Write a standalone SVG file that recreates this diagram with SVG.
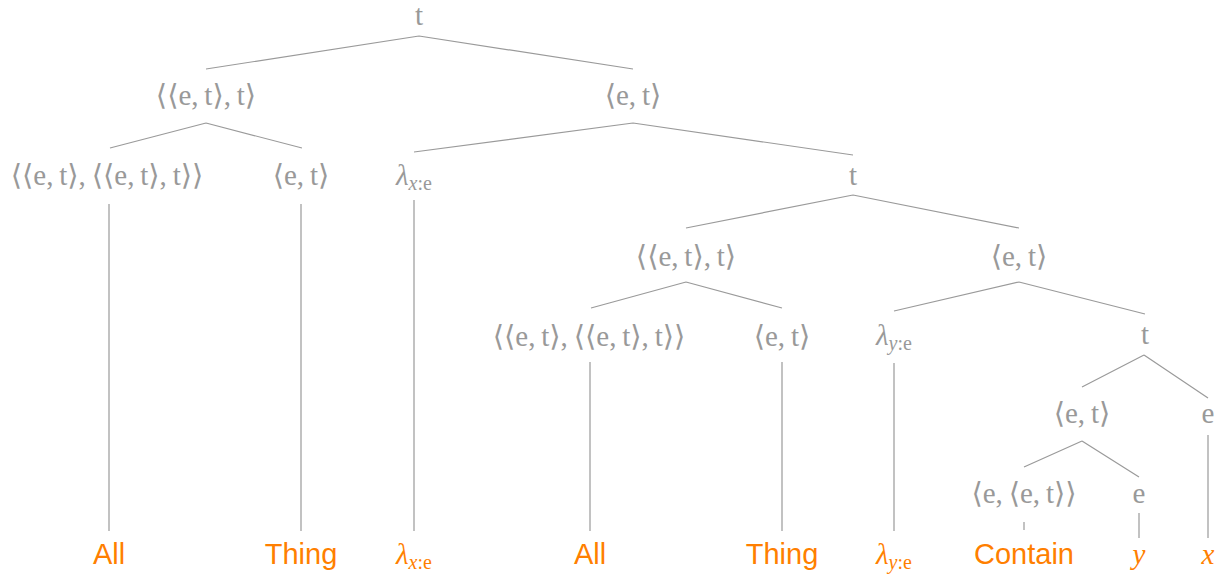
<svg xmlns="http://www.w3.org/2000/svg" width="1225" height="574" viewBox="0 0 1225 574">
<style>
.g{font-family:"Liberation Serif","DejaVu Serif",serif;font-size:29px;fill:#999;text-anchor:middle}
.o{font-family:"Liberation Sans",Arial,sans-serif;font-size:29px;fill:#ff7f00;text-anchor:middle}
.os{font-family:"Liberation Serif","DejaVu Serif",serif;font-size:29px;fill:#ff7f00;text-anchor:middle}
.i{font-style:italic}
.sub{font-size:20px}
.edges path{stroke:#9a9a9a;stroke-width:1.2;fill:none}
</style>
<rect width="1225" height="574" fill="#fff"/>
<g class="edges" id="connectors">
<path d="M419,36 L206,69 M419,36 L633,69"/>
<path d="M206,123 L110,148 M206,123 L302,148"/>
<path d="M633,123 L414,152 M633,123 L853,155"/>
<path d="M109,204 L109,531 M301,204 L301,531 M414,200 L414,531"/>
<path d="M853,195 L686,228 M853,195 L1019,228"/>
<path d="M686,282 L591,308 M686,282 L782,308"/>
<path d="M1019,282 L894,311 M1019,282 L1145,314"/>
<path d="M590,362 L590,531 M782,362 L782,531 M894,363 L894,531"/>
<path d="M1144,355 L1082,387 M1144,355 L1208,398"/>
<path d="M1082,441 L1024,467 M1082,441 L1139,477"/>
<path d="M1208,435 L1208,538 M1024,522 L1024,530 M1139,513 L1139,538"/>
</g>
<g id="n-root"><text class="g" x="419" y="25">t</text></g>
<g id="n-L1"><text class="g" x="206" y="105">⟨⟨e,&#8201;t⟩,&#8201;t⟩</text></g>
<g id="n-R1"><text class="g" x="633" y="105">⟨e,&#8201;t⟩</text></g>
<g id="n-all1"><text class="g" x="107" y="185">⟨⟨e,&#8201;t⟩,&#8201;⟨⟨e,&#8201;t⟩,&#8201;t⟩⟩</text></g>
<g id="n-thing1"><text class="g" x="301" y="185">⟨e,&#8201;t⟩</text></g>
<g id="n-lamx"><text class="g" x="414" y="185"><tspan class="i">λ</tspan><tspan class="sub i" dy="5">x</tspan><tspan class="sub">:e</tspan></text></g>
<g id="n-t2"><text class="g" x="853" y="185">t</text></g>
<g id="n-L3"><text class="g" x="686" y="266">⟨⟨e,&#8201;t⟩,&#8201;t⟩</text></g>
<g id="n-R3"><text class="g" x="1019" y="266">⟨e,&#8201;t⟩</text></g>
<g id="n-all2"><text class="g" x="589" y="346">⟨⟨e,&#8201;t⟩,&#8201;⟨⟨e,&#8201;t⟩,&#8201;t⟩⟩</text></g>
<g id="n-thing2"><text class="g" x="782" y="346">⟨e,&#8201;t⟩</text></g>
<g id="n-lamy"><text class="g" x="894" y="345"><tspan class="i">λ</tspan><tspan class="sub i" dy="5">y</tspan><tspan class="sub">:e</tspan></text></g>
<g id="n-t4"><text class="g" x="1145" y="344">t</text></g>
<g id="n-et5"><text class="g" x="1082" y="423">⟨e,&#8201;t⟩</text></g>
<g id="n-e5"><text class="g" x="1208" y="423">e</text></g>
<g id="n-eet"><text class="g" x="1024" y="503">⟨e,&#8201;⟨e,&#8201;t⟩⟩</text></g>
<g id="n-e6"><text class="g" x="1139" y="503">e</text></g>
<g id="leaf-all1"><text class="o" x="109" y="564">All</text></g>
<g id="leaf-thing1"><text class="o" x="301" y="564">Thing</text></g>
<g id="leaf-lamx"><text class="os" x="414" y="564"><tspan class="i">λ</tspan><tspan class="sub i" dy="5">x</tspan><tspan class="sub">:e</tspan></text></g>
<g id="leaf-all2"><text class="o" x="590" y="564">All</text></g>
<g id="leaf-thing2"><text class="o" x="782" y="564">Thing</text></g>
<g id="leaf-lamy"><text class="os" x="894" y="564"><tspan class="i">λ</tspan><tspan class="sub i" dy="5">y</tspan><tspan class="sub">:e</tspan></text></g>
<g id="leaf-contain"><text class="o" x="1024" y="564">Contain</text></g>
<g id="leaf-y"><text class="os i" x="1139" y="564">y</text></g>
<g id="leaf-x"><text class="os i" x="1208" y="564">x</text></g>
</svg>
